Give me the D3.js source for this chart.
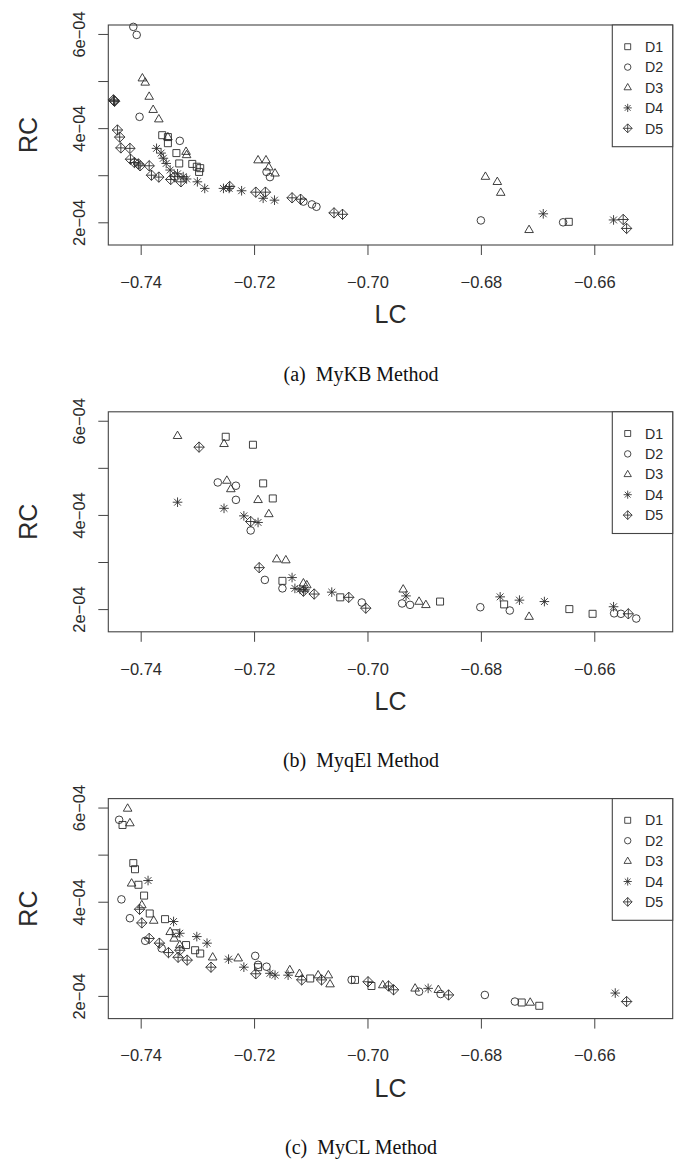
<!DOCTYPE html>
<html>
<head>
<meta charset="utf-8">
<script src="https://cdn.jsdelivr.net/npm/d3@7"></script>
<style>
  body { margin: 0; background: #fff; }
  svg { display: block; }
</style>
</head>
<body>
<script>
// ---- data: [LC, RC] per dataset, one block per method ----
const seriesNames = ["D1", "D2", "D3", "D4", "D5"];
const xTicks = [-0.74, -0.72, -0.70, -0.68, -0.66];
const xTickLabels = ["\u22120.74", "\u22120.72", "\u22120.70", "\u22120.68", "\u22120.66"];
const yTicks = [2e-4, 3e-4, 4e-4, 5e-4, 6e-4];
const yTickLabels = ["2e\u221204", "", "4e\u221204", "", "6e\u221204"];
const captions = ["(a)\u2002MyKB Method", "(b)\u2002MyqEl Method", "(c)\u2002MyCL Method"];

// MyKB
const kbD1 = [[-0.7362,3.85e-4],[-0.7352,3.81e-4],[-0.7352,3.68e-4],[-0.7337,3.47e-4],[-0.7332,3.25e-4],
  [-0.7309,3.24e-4],[-0.7301,3.18e-4],[-0.7295,3.15e-4],[-0.7297,3.07e-4],[-0.6645,2.01e-4]];
const kbD2 = [[-0.7413,6.15e-4],[-0.7407,5.98e-4],[-0.7402,4.24e-4],[-0.7331,3.73e-4],[-0.7178,3.07e-4],
  [-0.7172,2.96e-4],[-0.7113,2.44e-4],[-0.7098,2.38e-4],[-0.7090,2.33e-4],[-0.6800,2.04e-4],[-0.6655,2.00e-4]];
const kbD3 = [[-0.7397,5.06e-4],[-0.7392,4.97e-4],[-0.7385,4.67e-4],[-0.7378,4.39e-4],[-0.7368,4.19e-4],
  [-0.7352,3.81e-4],[-0.7320,3.50e-4],[-0.7319,3.43e-4],[-0.7193,3.32e-4],[-0.7179,3.32e-4],[-0.7174,3.17e-4],
  [-0.7163,3.04e-4],[-0.6792,2.97e-4],[-0.6771,2.86e-4],[-0.6765,2.63e-4],[-0.6715,1.84e-4]];
const kbD4 = [[-0.7372,3.57e-4],[-0.7364,3.47e-4],[-0.7360,3.36e-4],[-0.7355,3.25e-4],[-0.7348,3.11e-4],
  [-0.7335,3.03e-4],[-0.7325,2.97e-4],[-0.7319,2.92e-4],[-0.7300,2.86e-4],[-0.7287,2.72e-4],[-0.7254,2.72e-4],
  [-0.7244,2.72e-4],[-0.7222,2.67e-4],[-0.7184,2.51e-4],[-0.7164,2.47e-4],[-0.6690,2.18e-4],[-0.6566,2.05e-4]];
const kbD5 = [[-0.7448,4.60e-4],[-0.7447,4.58e-4],[-0.7446,4.57e-4],[-0.7441,3.96e-4],[-0.7437,3.81e-4],
  [-0.7435,3.58e-4],[-0.7419,3.57e-4],[-0.7418,3.34e-4],[-0.7411,3.27e-4],[-0.7404,3.24e-4],[-0.7401,3.20e-4],
  [-0.7385,3.20e-4],[-0.7381,3.00e-4],[-0.7368,2.96e-4],[-0.7347,2.91e-4],[-0.7340,2.97e-4],[-0.7329,2.86e-4],
  [-0.7243,2.76e-4],[-0.7197,2.64e-4],[-0.7180,2.64e-4],[-0.7133,2.52e-4],[-0.7118,2.49e-4],[-0.7059,2.20e-4],
  [-0.7044,2.17e-4],[-0.6549,2.06e-4],[-0.6543,1.87e-4]];

// MyqEl
const qeD1 = [[-0.7250,5.66e-4],[-0.7202,5.49e-4],[-0.7184,4.67e-4],[-0.7167,4.35e-4],[-0.7150,2.60e-4],
  [-0.7048,2.25e-4],[-0.6872,2.16e-4],[-0.6759,2.10e-4],[-0.6644,2.00e-4],[-0.6603,1.90e-4]];
const qeD2 = [[-0.7264,4.69e-4],[-0.7232,4.62e-4],[-0.7232,4.32e-4],[-0.7206,3.67e-4],[-0.7181,2.62e-4],
  [-0.7150,2.44e-4],[-0.7010,2.14e-4],[-0.6939,2.12e-4],[-0.6925,2.09e-4],[-0.6801,2.04e-4],[-0.6749,1.97e-4],
  [-0.6565,1.91e-4],[-0.6553,1.90e-4],[-0.6526,1.80e-4]];
const qeD3 = [[-0.7335,5.68e-4],[-0.7253,5.51e-4],[-0.7248,4.73e-4],[-0.7241,4.55e-4],[-0.7193,4.32e-4],
  [-0.7174,4.02e-4],[-0.7160,3.06e-4],[-0.7144,3.04e-4],[-0.7113,2.55e-4],[-0.7107,2.51e-4],[-0.6937,2.42e-4],
  [-0.6909,2.16e-4],[-0.6897,2.09e-4],[-0.6715,1.84e-4]];
const qeD4 = [[-0.7335,4.27e-4],[-0.7253,4.14e-4],[-0.7218,3.98e-4],[-0.7193,3.84e-4],[-0.7133,2.67e-4],
  [-0.7128,2.44e-4],[-0.7119,2.42e-4],[-0.7110,2.41e-4],[-0.7063,2.36e-4],[-0.6932,2.28e-4],[-0.6766,2.26e-4],
  [-0.6732,2.19e-4],[-0.6688,2.16e-4],[-0.6566,2.05e-4]];
const qeD5 = [[-0.7297,5.44e-4],[-0.7206,3.86e-4],[-0.7191,2.88e-4],[-0.7113,2.38e-4],[-0.7094,2.32e-4],
  [-0.7033,2.25e-4],[-0.7003,2.02e-4],[-0.6540,1.90e-4]];

// MyCL
const clD1 = [[-0.7432,5.63e-4],[-0.7413,4.82e-4],[-0.7410,4.69e-4],[-0.7404,4.36e-4],[-0.7394,4.13e-4],
  [-0.7384,3.75e-4],[-0.7357,3.63e-4],[-0.7338,3.33e-4],[-0.7320,3.08e-4],[-0.7304,2.97e-4],[-0.7295,2.90e-4],
  [-0.7193,2.61e-4],[-0.7101,2.37e-4],[-0.7022,2.34e-4],[-0.6993,2.21e-4],[-0.6728,1.86e-4],[-0.6697,1.79e-4]];
const clD2 = [[-0.7438,5.74e-4],[-0.7434,4.05e-4],[-0.7419,3.65e-4],[-0.7392,3.17e-4],[-0.7363,3.01e-4],
  [-0.7198,2.85e-4],[-0.7193,2.66e-4],[-0.7178,2.62e-4],[-0.7028,2.34e-4],[-0.6909,2.09e-4],[-0.6871,2.04e-4],
  [-0.6793,2.02e-4],[-0.6740,1.88e-4]];
const clD3 = [[-0.7423,5.98e-4],[-0.7419,5.67e-4],[-0.7416,4.39e-4],[-0.7398,3.93e-4],[-0.7377,3.60e-4],
  [-0.7348,3.36e-4],[-0.7341,3.22e-4],[-0.7331,3.08e-4],[-0.7273,2.82e-4],[-0.7228,2.80e-4],[-0.7137,2.55e-4],
  [-0.7120,2.47e-4],[-0.7087,2.44e-4],[-0.7069,2.44e-4],[-0.7066,2.25e-4],[-0.6973,2.23e-4],[-0.6916,2.16e-4],
  [-0.6875,2.13e-4],[-0.6713,1.86e-4]];
const clD4 = [[-0.7387,4.45e-4],[-0.7342,3.58e-4],[-0.7331,3.33e-4],[-0.7301,3.26e-4],[-0.7283,3.12e-4],
  [-0.7245,2.78e-4],[-0.7218,2.61e-4],[-0.7172,2.48e-4],[-0.7163,2.44e-4],[-0.7140,2.44e-4],[-0.6893,2.16e-4],
  [-0.6563,2.06e-4]];
const clD5 = [[-0.7402,3.84e-4],[-0.7398,3.55e-4],[-0.7385,3.22e-4],[-0.7367,3.12e-4],[-0.7351,2.92e-4],
  [-0.7331,2.97e-4],[-0.7334,2.82e-4],[-0.7318,2.76e-4],[-0.7276,2.61e-4],[-0.7197,2.47e-4],[-0.7116,2.34e-4],
  [-0.7081,2.34e-4],[-0.6999,2.30e-4],[-0.6963,2.21e-4],[-0.6954,2.13e-4],[-0.6857,2.02e-4],[-0.6543,1.88e-4]];

const panels = [
  [kbD1, kbD2, kbD3, kbD4, kbD5],
  [qeD1, qeD2, qeD3, qeD4, qeD5],
  [clD1, clD2, clD3, clD4, clD5]
];

// ---- layout ----
const W = 680, H = 1159;
const box = { left: 108.3, right: 672.7, top: 25, bottom: 245 };
const panelStep = 386.8;
const ink = "#2b2b2b";
const sans = "'Liberation Sans', Arial, Helvetica, sans-serif";
const serif = "'Liberation Serif', 'Times New Roman', serif";

const svg = d3.select("body").append("svg")
  .attr("width", W).attr("height", H)
  .attr("viewBox", `0 0 ${W} ${H}`);

const x = d3.scaleLinear().domain([-0.74571, -0.64617]).range([box.left, box.right]);
const y = d3.scaleLinear().domain([1.518e-4, 6.19e-4]).range([box.bottom, box.top]);

// symbol paths in the style of R plotting characters 0, 1, 2, 8, 9
function symbolPath(k) {
  switch (k) {
    case 0: return "M-3.5,-3.5h7v7h-7Z";
    case 1: { const r = 3.8; return `M${r},0A${r},${r} 0 1,1 ${-r},0A${r},${r} 0 1,1 ${r},0Z`; }
    case 2: return "M0,-4.7L4.3,2.7L-4.3,2.7Z";
    case 3: { const r = 4.8, d = 3.4;
      return `M${-r},0H${r}M0,${-r}V${r}M${-d},${-d}L${d},${d}M${-d},${d}L${d},${-d}`; }
    default: { const d = 5.2;
      return `M0,${-d}L${d},0L0,${d}L${-d},0ZM${-d},0H${d}M0,${-d}V${d}`; }
  }
}

panels.forEach((series, p) => {
  const g = svg.append("g").attr("transform", `translate(0,${p * panelStep})`);

  // x axis
  const xa = g.append("g")
    .attr("transform", `translate(0,${box.bottom})`)
    .call(d3.axisBottom(x).tickValues(xTicks).tickSize(10).tickPadding(21)
      .tickFormat((d, i) => xTickLabels[i]));
  xa.select(".domain").remove();
  xa.selectAll("line").attr("stroke", "#444");
  xa.selectAll("text").attr("font-family", sans).attr("font-size", 16.5).attr("fill", ink);

  // y axis with rotated labels
  const ya = g.append("g")
    .attr("transform", `translate(${box.left},0)`)
    .call(d3.axisLeft(y).tickValues(yTicks).tickSize(10)
      .tickFormat((d, i) => yTickLabels[i]));
  ya.select(".domain").remove();
  ya.selectAll("line").attr("stroke", "#444");
  ya.selectAll("text")
    .attr("font-family", sans).attr("font-size", 16.5).attr("fill", ink)
    .attr("text-anchor", "middle")
    .attr("transform", "rotate(-90)")
    .attr("x", 0).attr("y", -23).attr("dy", 0);

  // plot frame
  g.append("rect")
    .attr("x", box.left).attr("y", box.top)
    .attr("width", box.right - box.left).attr("height", box.bottom - box.top)
    .attr("fill", "none").attr("stroke", "#444").attr("stroke-width", 1.1);

  // points
  series.forEach((pts, k) => {
    g.append("g").selectAll("path").data(pts).join("path")
      .attr("d", symbolPath(k))
      .attr("transform", d => `translate(${x(d[0])},${y(d[1])})`)
      .attr("fill", "none").attr("stroke", ink).attr("stroke-width", 0.9);
  });

  // legend
  const lg = g.append("g");
  lg.append("rect")
    .attr("x", 612.3).attr("y", box.top)
    .attr("width", box.right - 612.3).attr("height", 121.7)
    .attr("fill", "#fff").attr("stroke", "#444").attr("stroke-width", 1.1);
  seriesNames.forEach((name, k) => {
    const cy = box.top + 21.7 + k * 20.4;
    lg.append("path").attr("d", symbolPath(k))
      .attr("transform", `translate(627.7,${cy}) scale(0.85)`)
      .attr("fill", "none").attr("stroke", ink).attr("stroke-width", 1);
    lg.append("text").attr("x", 645).attr("y", cy + 5.2)
      .attr("font-family", sans).attr("font-size", 14.2).attr("fill", ink)
      .text(name);
  });

  // axis titles
  g.append("text")
    .attr("x", (box.left + box.right) / 2).attr("y", 323)
    .attr("text-anchor", "middle")
    .attr("font-family", sans).attr("font-size", 25).attr("fill", ink)
    .text("LC");
  g.append("text")
    .attr("transform", `translate(36.5,${(box.top + box.bottom) / 2}) rotate(-90)`)
    .attr("text-anchor", "middle")
    .attr("font-family", sans).attr("font-size", 25).attr("fill", ink)
    .text("RC");

  // caption
  g.append("text")
    .attr("x", 361).attr("y", 380.5)
    .attr("text-anchor", "middle")
    .attr("font-family", serif).attr("font-size", 20).attr("fill", "#111")
    .text(captions[p]);
});
</script>
</body>
</html>
